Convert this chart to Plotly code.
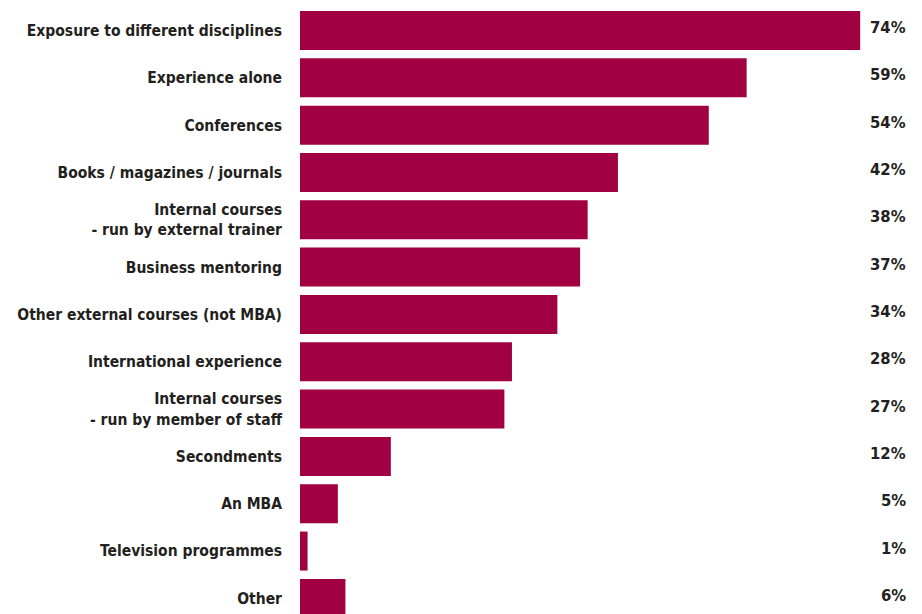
import plotly.graph_objects as go

categories = [
    "Exposure to different disciplines",
    "Experience alone",
    "Conferences",
    "Books / magazines / journals",
    "Internal courses<br>- run by external trainer",
    "Business mentoring",
    "Other external courses (not MBA)",
    "International experience",
    "Internal courses<br>- run by member of staff",
    "Secondments",
    "An MBA",
    "Television programmes",
    "Other",
]
values = [74, 59, 54, 42, 38, 37, 34, 28, 27, 12, 5, 1, 6]
value_labels = [f"{v}%" for v in values]

BAR = "#A10043"
INK = "#231F20"
FONT = "DejaVu Sans Condensed, Liberation Sans Narrow, sans-serif"

fig = go.Figure(
    go.Bar(
        x=values,
        y=categories,
        orientation="h",
        marker=dict(color=BAR, line=dict(width=0)),
        hoverinfo="skip",
    )
)

# percentage labels pinned to the right edge, one per bar
for cat, lab in zip(categories, value_labels):
    fig.add_annotation(
        x=(908 - 300) / 622,
        xref="paper",
        y=cat,
        yref="y",
        yshift=3,
        text=f"<b>{lab}</b>",
        showarrow=False,
        xanchor="right",
        yanchor="middle",
        font=dict(family=FONT, size=16.5, color=INK),
    )

fig.update_layout(
    width=922,
    height=614,
    margin=dict(l=300, r=0, t=0, b=0, autoexpand=False),
    paper_bgcolor="white",
    plot_bgcolor="white",
    bargap=0.176,
    showlegend=False,
    font=dict(family=FONT, size=16, color=INK),
)
fig.update_xaxes(range=[0, 622 / 7.57], visible=False, fixedrange=True,
                 automargin=False)
fig.update_yaxes(
    range=[12.33, -0.644],
    showgrid=False,
    zeroline=False,
    showline=False,
    ticks="",
    automargin=False,
    ticklabelstandoff=17,
    tickfont=dict(family=FONT, size=15.5, color=INK),
    tickprefix="<b>",
    ticksuffix="</b>",
    fixedrange=True,
)

fig.write_html("out.html")
